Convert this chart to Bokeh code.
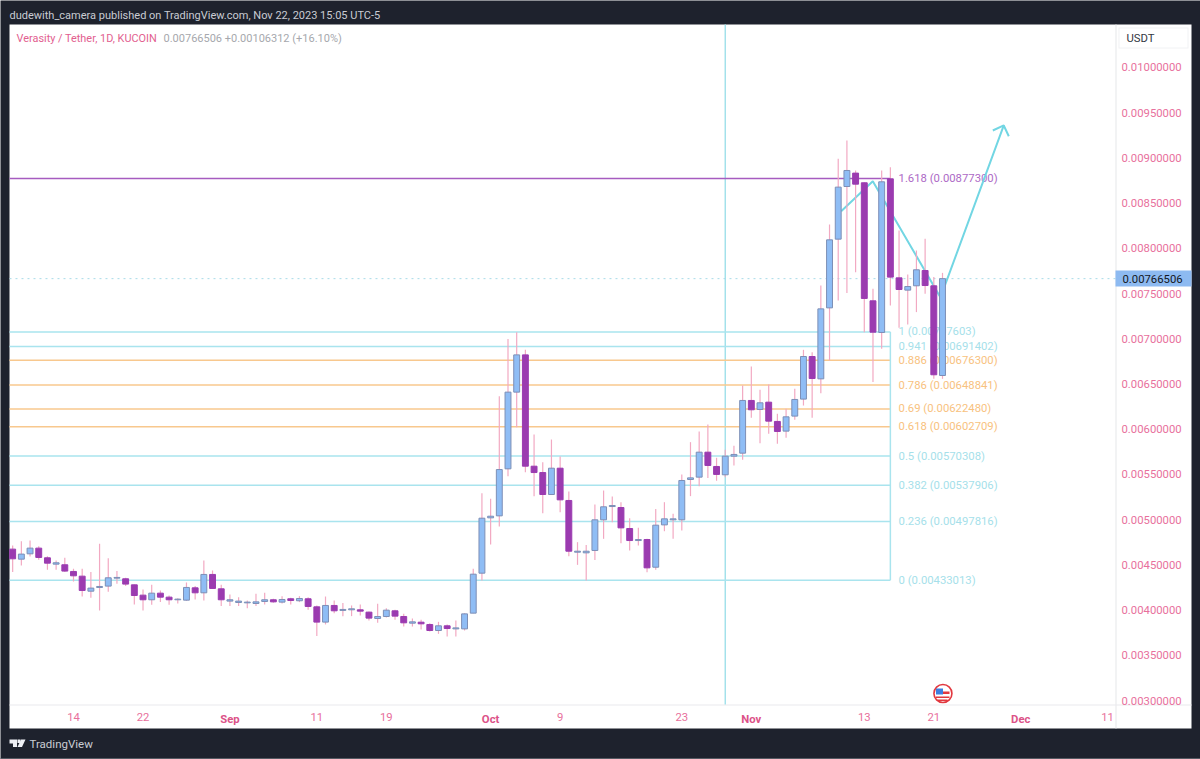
from bokeh.core.properties import value
from bokeh.plotting import figure
from bokeh.models import (BoxAnnotation, ColumnDataSource, FixedTicker, Label,
                          LinearAxis, NumeralTickFormatter, PolyAnnotation)
from bokeh.embed import file_html
from bokeh.resources import INLINE

# Daily candles: day offset from 14 Aug 2023
days = list(range(-7, 101))
opens = [
    0.004674, 0.004563, 0.004622, 0.004685, 0.004578, 0.004508, 0.004501, 0.004427, 0.004375, 0.004209,
    0.004250, 0.004265, 0.004353, 0.004346, 0.004279, 0.004165, 0.004114, 0.004187, 0.004143, 0.004114,
    0.004110, 0.004246, 0.004191, 0.004394, 0.004235, 0.004099, 0.004084, 0.004080, 0.004073, 0.004095,
    0.004114, 0.004088, 0.004125, 0.004103, 0.004125, 0.004036, 0.003867, 0.004051, 0.003996, 0.004003,
    0.004003, 0.003977, 0.003907, 0.003929, 0.003992, 0.003929, 0.003855, 0.003866, 0.003840, 0.003774,
    0.003826, 0.003792, 0.003792, 0.003966, 0.004408, 0.005020, 0.005042, 0.005562, 0.006410, 0.006822,
    0.005591, 0.005521, 0.005278, 0.005569, 0.005212, 0.004640, 0.004633, 0.004659, 0.004998, 0.005145,
    0.005134, 0.004902, 0.004769, 0.004780, 0.004474, 0.004942, 0.004998, 0.004998, 0.005444, 0.005470,
    0.005746, 0.005588, 0.005496, 0.005702, 0.005735, 0.006318, 0.006218, 0.006299, 0.006086, 0.005979,
    0.006145, 0.006333, 0.006804, 0.006557, 0.007342, 0.008102, 0.008684, 0.008832, 0.008725, 0.007420,
    0.007070, 0.008769, 0.007674, 0.007538, 0.007586, 0.007755, 0.007586, 0.006594,
]
highs = [
    0.004714, 0.004762, 0.004770, 0.004707, 0.004596, 0.004549, 0.004578, 0.004456, 0.004456, 0.004420,
    0.004733, 0.004574, 0.004431, 0.004357, 0.004283, 0.004228, 0.004279, 0.004217, 0.004161, 0.004132,
    0.004305, 0.004265, 0.004549, 0.004438, 0.004279, 0.004173, 0.004143, 0.004106, 0.004180, 0.004191,
    0.004125, 0.004154, 0.004136, 0.004154, 0.004143, 0.004051, 0.004150, 0.004106, 0.004077, 0.004051,
    0.004062, 0.003985, 0.004069, 0.004021, 0.004003, 0.003958, 0.003907, 0.003892, 0.003855, 0.003870,
    0.003840, 0.003885, 0.003966, 0.004456, 0.005293, 0.005230, 0.006365, 0.006999, 0.007073, 0.006878,
    0.005941, 0.005635, 0.005886, 0.005698, 0.005311, 0.004751, 0.004721, 0.005167, 0.005322, 0.005256,
    0.005193, 0.005016, 0.004909, 0.004788, 0.005119, 0.005193, 0.005064, 0.005499, 0.005857, 0.005975,
    0.006052, 0.005684, 0.005772, 0.005817, 0.006484, 0.006694, 0.006436, 0.006495, 0.006170, 0.006226,
    0.006447, 0.006878, 0.006852, 0.007589, 0.008264, 0.008990, 0.009193, 0.008861, 0.008732, 0.007553,
    0.008861, 0.008898, 0.008198, 0.007711, 0.007976, 0.008105, 0.007682, 0.007729,
]
lows = [
    0.004420, 0.004493, 0.004593, 0.004556, 0.004445, 0.004445, 0.004420, 0.004316, 0.004150, 0.004136,
    0.003996, 0.004202, 0.004291, 0.004265, 0.004062, 0.003996, 0.004058, 0.004088, 0.004058, 0.004073,
    0.004099, 0.004117, 0.004106, 0.004235, 0.004044, 0.004044, 0.004044, 0.004021, 0.004044, 0.004062,
    0.004080, 0.004073, 0.004062, 0.004088, 0.004003, 0.003712, 0.003841, 0.003966, 0.003933, 0.003933,
    0.003940, 0.003885, 0.003859, 0.003918, 0.003892, 0.003818, 0.003818, 0.003785, 0.003763, 0.003737,
    0.003708, 0.003708, 0.003774, 0.003966, 0.004327, 0.004725, 0.004924, 0.005481, 0.006022, 0.005525,
    0.005260, 0.005071, 0.005278, 0.005083, 0.004596, 0.004500, 0.004327, 0.004555, 0.004788, 0.004972,
    0.004740, 0.004659, 0.004714, 0.004419, 0.004445, 0.004872, 0.004788, 0.004880, 0.005260, 0.005370,
    0.005460, 0.005430, 0.005470, 0.005599, 0.005662, 0.006126, 0.005846, 0.005949, 0.005839, 0.005905,
    0.006104, 0.006262, 0.006126, 0.006399, 0.006760, 0.007424, 0.007505, 0.007737, 0.007073, 0.006521,
    0.006889, 0.007368, 0.007121, 0.007158, 0.007295, 0.007497, 0.006557, 0.006557,
]
closes = [
    0.004567, 0.004619, 0.004685, 0.004582, 0.004519, 0.004523, 0.004431, 0.004379, 0.004217, 0.004243,
    0.004261, 0.004357, 0.004361, 0.004287, 0.004161, 0.004114, 0.004187, 0.004143, 0.004114, 0.004121,
    0.004250, 0.004191, 0.004394, 0.004239, 0.004114, 0.004114, 0.004099, 0.004088, 0.004091, 0.004114,
    0.004091, 0.004117, 0.004106, 0.004128, 0.004040, 0.003867, 0.004051, 0.003992, 0.004007, 0.004014,
    0.003988, 0.003911, 0.003929, 0.003999, 0.003933, 0.003859, 0.003870, 0.003848, 0.003774, 0.003826,
    0.003796, 0.003803, 0.003958, 0.004397, 0.005016, 0.005038, 0.005554, 0.006410, 0.006822, 0.005591,
    0.005521, 0.005278, 0.005569, 0.005219, 0.004651, 0.004651, 0.004651, 0.004998, 0.005142, 0.005156,
    0.004909, 0.004769, 0.004780, 0.004467, 0.004939, 0.005009, 0.005009, 0.005433, 0.005462, 0.005746,
    0.005599, 0.005500, 0.005702, 0.005721, 0.006318, 0.006215, 0.006292, 0.006089, 0.005975, 0.006137,
    0.006329, 0.006804, 0.006561, 0.007331, 0.008094, 0.008677, 0.008861, 0.008710, 0.007446, 0.007073,
    0.008736, 0.007682, 0.007545, 0.007578, 0.007763, 0.007589, 0.006602, 0.007665,
]

# Fibonacci retracement levels
fib_prices = [0.00877300, 0.00707603, 0.00691402, 0.00676300, 0.00648841, 0.00622480,
              0.00602709, 0.00570308, 0.00537906, 0.00497816, 0.00433013]
fib_labels = ["1.618 (0.00877300)", "1 (0.00707603)", "0.941 (0.00691402)", "0.886 (0.00676300)",
              "0.786 (0.00648841)", "0.69 (0.00622480)", "0.618 (0.00602709)", "0.5 (0.00570308)",
              "0.382 (0.00537906)", "0.236 (0.00497816)", "0 (0.00433013)"]
fib_line_colors = ["#a65cc0", "#a9e4ee", "#a9e4ee", "#f8c88e", "#f8c88e", "#f8c88e",
                   "#f8c88e", "#a9e4ee", "#a9e4ee", "#a9e4ee", "#a9e4ee"]
fib_text_colors = ["#ad69c6", "#a6dfea", "#a6dfea", "#f8c280", "#f8c280", "#f8c280",
                   "#f8c280", "#a6dfea", "#a6dfea", "#a6dfea", "#a6dfea"]

# Hand-drawn projection and arrow head
path_days = [88.34, 91.98, 99.77, 107.05]
path_prices = [0.008411, 0.008743, 0.007457, 0.009359]
head_days = [105.79, 107.05, 107.63]
head_prices = [0.009303, 0.009359, 0.009240]

# Axes
number_ticks = [0, 8, 28, 36, 56, 70, 91, 99, 119]
number_labels = ["14", "22", "11", "19", "9", "23", "13", "21", "11"]
month_ticks = [18, 48, 78, 109]
month_labels = ["Sep", "Oct", "Nov", "Dec"]
price_ticks = [0.003, 0.0035, 0.004, 0.0045, 0.005, 0.0055, 0.006, 0.0065,
               0.007, 0.0075, 0.008, 0.0085, 0.009, 0.0095, 0.010]
last_price = 0.00766506
cursor_day = 75

# The frame fills the whole page; the pane's edges in data terms
pane_left, pane_right = -7.365, 119.91
pane_bottom, pane_top = 0.002956, 0.0104755

DARK = "#1e222d"
AXIS_TEXT = "#e8709c"
MONTH_TEXT = "#dc5288"
FONT = "Roboto"

p = figure(width=1200, height=759, output_backend="svg", toolbar_location=None,
           x_range=(-8.400, 129.689), y_range=(0.0023476, 0.0107409),
           x_axis_type=None, y_axis_type=None,
           min_border_left=0, min_border_right=0, min_border_top=0, min_border_bottom=0,
           border_fill_color=DARK, background_fill_color=DARK, outline_line_color=None)
p.grid.visible = False


def screen_box(left, right, top, bottom, color, level="overlay"):
    p.add_layout(BoxAnnotation(left=left, right=right, top=top, bottom=bottom,
                               left_units="canvas", right_units="canvas",
                               top_units="canvas", bottom_units="canvas",
                               fill_color=color, fill_alpha=1, line_color=None, level=level,
                               editable=False))


def text(x, y, content, color, size, style="normal", level="overlay"):
    p.add_layout(Label(x=x, y=y, x_units="canvas", y_units="canvas", text=content,
                       text_color=color, text_font=FONT, text_font_size=size,
                       text_font_style=style, text_baseline="middle", text_align="left", level=level))


screen_box(9, 1191, 24, 728, "white", level="underlay")
screen_box(0, 1200, 757.5, 759, "#565a63", level="underlay")

# Axes
yaxis = LinearAxis(ticker=FixedTicker(ticks=price_ticks), fixed_location=pane_right,
                   bounds=(pane_bottom, 0.0107),
                   formatter=NumeralTickFormatter(format="0.00000000"))
yaxis.major_tick_line_color = None
yaxis.minor_tick_line_color = None
yaxis.axis_line_color = None
yaxis.major_label_text_color = AXIS_TEXT
yaxis.major_label_text_font = FONT
yaxis.major_label_text_font_size = "11.3px"
yaxis.major_label_standoff = 0
p.add_layout(yaxis, "right")

xaxis = LinearAxis(ticker=FixedTicker(ticks=number_ticks), fixed_location=pane_bottom,
                   major_label_overrides=dict(zip(number_ticks, number_labels)))
xaxis.major_tick_line_color = None
xaxis.minor_tick_line_color = None
xaxis.axis_line_color = None
xaxis.major_label_text_color = AXIS_TEXT
xaxis.major_label_text_font = FONT
xaxis.major_label_text_font_size = "11.3px"
xaxis.major_label_standoff = 3
p.add_layout(xaxis, "below")

month_axis = LinearAxis(ticker=FixedTicker(ticks=month_ticks), fixed_location=pane_bottom,
                        major_label_overrides=dict(zip(month_ticks, month_labels)))
month_axis.major_tick_line_color = None
month_axis.minor_tick_line_color = None
month_axis.axis_line_color = None
month_axis.major_label_text_color = MONTH_TEXT
month_axis.major_label_text_font = FONT
month_axis.major_label_text_font_style = "bold"
month_axis.major_label_text_font_size = "11.3px"
month_axis.major_label_standoff = 3
p.add_layout(month_axis, "below")

# Pane dividers
screen_box(1115, 1116, 24, 728, "#e6e7ea", level="underlay")
screen_box(9, 1191, 704, 705, "#e9eaed", level="underlay")

# Cursor and last-price lines
p.segment(x0=[cursor_day], x1=[cursor_day], y0=[pane_bottom], y1=[pane_top],
          line_color="#9fe0ea", line_width=1.4)
p.segment(x0=[pane_left], x1=[pane_right], y0=[last_price], y1=[last_price],
          line_color="#a8dbe8", line_width=1, line_dash="dotted")

# Fibonacci tool
fib_end = 94
p.segment(x0=[pane_left] * len(fib_prices), x1=[fib_end] * len(fib_prices), y0=fib_prices, y1=fib_prices,
          line_color=fib_line_colors, line_width=1.5)
p.segment(x0=[fib_end], x1=[fib_end], y0=[fib_prices[1]], y1=[fib_prices[-1]],
          line_color="#a9e4ee", line_width=1.5)
p.text(x=[94.94] * len(fib_prices), y=fib_prices, text=fib_labels, text_color=fib_text_colors,
       text_font_size="11.3px", text_font=value(FONT), text_baseline="middle")

# Projection arrow
p.line(path_days, path_prices, line_color="#72d6e3", line_width=2)
p.line(head_days, head_prices, line_color="#72d6e3", line_width=2)

# Candles
up = [c >= o for o, c in zip(opens, closes)]
src = ColumnDataSource(dict(
    day=days, high=highs, low=lows,
    top=[max(o, c) for o, c in zip(opens, closes)],
    bottom=[min(o, c) for o, c in zip(opens, closes)],
    fill=["#8fbdf5" if u else "#9b3bb0" for u in up],
    edge=["#7d8fb6" if u else "#9b3bb0" for u in up],
))
p.segment(x0="day", x1="day", y0="low", y1="high", source=src, line_color="#f2a9c2", line_width=1.2)
p.vbar(x="day", top="top", bottom="bottom", width=0.68, source=src,
       fill_color="fill", line_color="edge", line_width=1)

# Economic-event flag
p.scatter(x=[100.05], y=[0.003077], size=18, marker="circle", fill_color="white",
          line_color="#e2383f", line_width=1.6)
screen_box(935.5, 942.5, 688, 694, "#3f7fe0")
screen_box(942.5, 949, 691, 693.5, "#e2383f")
screen_box(935, 949, 696, 697.5, "#e2383f")
screen_box(937, 947, 699, 700.5, "#e2383f")

# Last-price tag
screen_box(1115, 1191, 270, 286, "#8dbaf1")
text(1122, 278.5, "0.00766506", "#131722", "11.3px")

# USDT box
screen_box(1118, 1188, 27, 48, "#f1f2f4")
screen_box(1119, 1187, 28, 47, "white")
text(1126, 37.5, "USDT", "#333742", "11.3px")

# Header
text(9, 15, "dudewith_camera published on TradingView.com, Nov 22, 2023 15:05 UTC-5", "#c9ccd3", "11px")
text(16, 38, "Verasity / Tether, 1D, KUCOIN", "#e2608f", "10.9px")
text(163, 38, "0.00766506  +0.00106312 (+16.10%)", "#a6a8ad", "11px")

# Footer logo and word mark
logo = "#eef0f5"
for xs, ys in [
    ([9, 16.5, 16.5, 12.5, 12.5, 9], [739, 739, 746.5, 746.5, 743, 743]),
    ([20.5, 25, 21.5, 17], [739, 739, 746.5, 746.5]),
]:
    p.add_layout(PolyAnnotation(xs=xs, ys=ys, xs_units="canvas", ys_units="canvas",
                                fill_color=logo, fill_alpha=1, line_color=None, editable=False))
screen_box(17, 20, 739, 742.5, logo)
text(29, 743, "TradingView", "#c9ccd3", "11.5px")

open("out.html", "w").write(file_html(p, INLINE))
